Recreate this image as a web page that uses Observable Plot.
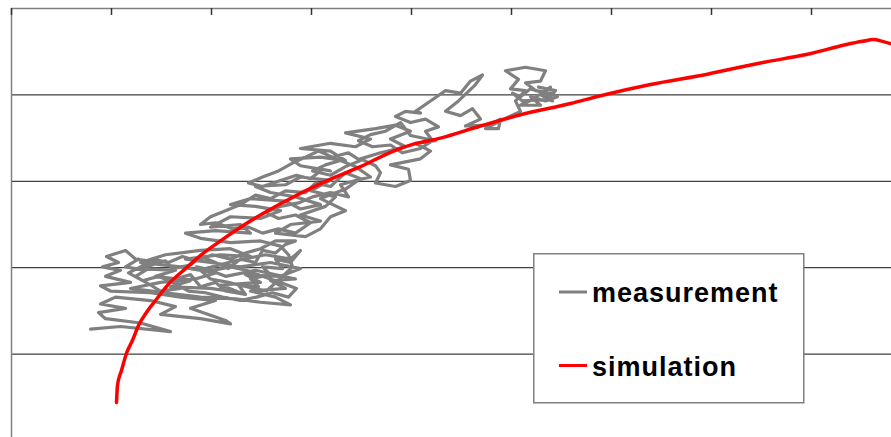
<!DOCTYPE html>
<html><head><meta charset="utf-8">
<script src="https://cdn.jsdelivr.net/npm/d3@7"></script>
<script src="https://cdn.jsdelivr.net/npm/@observablehq/plot@0.6"></script>
<style>
body{margin:0;background:#fff}
#wrap{position:relative;width:891px;height:437px;overflow:hidden}
#legend{position:absolute;left:0;top:0;pointer-events:none}
#legend text{font-family:"Liberation Sans",Arial,sans-serif;font-weight:bold;font-size:27px;letter-spacing:1px;fill:#000}
</style>
</head><body>
<div id="wrap"></div>
<script>
const xTicks = [0, 100, 200, 300, 400, 500, 600, 700, 800];
const yGrid = [100, 200, 300, 400];
const seriesNames = ["measurement", "simulation"];
const seriesColors = ["#808080", "#ff0000"];

const simX = [105,106,110,115,121,127,136,144,157,174,191,209,236,269,316,349,382,402,429,469,509,559,589,639,696,749,796,834,851,862,871,880];
const simY = [44,64,81,101,116,133,150,162,181,199,216,231,252,274,301,317,335,343,350,364,377,390,399,412,424,437,447,458,462,464,462,459];

const measX = [
 79,109,159,129,94,87,114,89,104,139,164,149,189,219,214,179,204,169,139,
 99,89,119,94,109,91,107,95,114,124,149,129,164,144,179,159,199,229,209,249,234,269,289,259,229,199,174,209,239,219,189,154,129,169,204,184,149,119,154,189,224,249,279,264,239,274,259,284,244,214,194,224,254,279,289,
 279,264,271,251,259,239,247,227,234,214,204,189,179,164,169,149,139,124,134,114,127,139,154,161,179,189,204,217,229,244,251,264,274,284,264,
 249,234,219,201,185,171,157,141,129,117,131,147,161,177,194,211,229,245,261,277,285,269,251,235,219,201,185,199,217,235,255,271,281,277,
 269,249,219,189,174,204,239,229,199,219,249,269,244,219,239,274,289,309,284,259,244,274,289,319,299,324,314,289,309,279,264,294,309,319,334,309,334,349,
 334,319,304,294,274,259,244,229,214,199,189,204,221,237,251,267,284,299,284,267,254,269,287,301,319,337,329,344,359,344,329,314,301,319,
 334,349,337,321,307,294,281,267,251,237,251,269,285,299,311,
 319,289,279,309,334,319,289,319,344,359,334,364,384,399,379,394,369,349,364,369,364,384,399,397,379,409,419,404,424,399,389,
 374,359,347,361,379,391,409,421,414,427,414,399,384,394,409,
 404,419,434,449,459,471,464,447,434,449,461,469,454,477,489,487,474,489,509,504,514,499,507,494,514,534,529,514,524,539,546,534,519,529,509,521,539,529,
 541,534,519,509,501,511,537,544,527
];
const measY = [
 129,132,126,136,141,148,153,158,166,162,155,146,141,135,139,153,162,166,171,
 173,179,183,190,197,201,206,213,220,210,206,199,197,190,185,178,176,171,180,183,192,190,199,206,201,206,210,215,213,222,220,215,206,201,194,187,183,176,171,166,164,160,157,166,173,176,185,187,197,190,199,208,215,210,220,
 206,210,199,201,192,187,178,180,169,173,183,178,192,187,176,173,180,190,197,201,210,203,208,199,203,213,206,199,210,206,220,217,227,231,231,
 222,217,210,215,208,213,206,210,201,194,185,190,183,173,171,166,162,166,171,166,176,183,190,197,201,197,201,187,183,178,173,190,201,215,
 225,231,229,234,240,243,240,250,247,259,257,266,271,273,280,277,268,273,282,287,294,296,305,301,289,282,271,261,254,250,240,236,245,259,266,280,291,303,
 310,294,298,287,289,280,284,273,266,259,250,252,245,247,240,245,240,252,261,257,264,271,275,282,287,282,296,301,305,317,324,319,312,307,
 317,324,333,328,335,328,321,312,305,298,294,301,307,303,314,
 312,318,326,328,324,335,338,344,340,349,356,361,365,358,349,340,333,326,318,310,298,294,301,314,319,326,335,344,347,353,368,
 358,354,347,340,342,333,338,347,358,363,372,368,375,381,379,
 381,393,405,402,416,423,412,393,381,376,384,372,364,365,372,361,361,370,381,393,405,407,418,428,432,428,416,414,405,402,398,393,398,388,388,395,409,400,
 393,402,407,398,402,393,395,405,409
];

const sim = simX.map((x, i) => ({x, y: simY[i]}));
const meas = measX.map((x, i) => ({x, y: measY[i]}));

const chart = Plot.plot({
  width: 891, height: 437,
  marginLeft: 11, marginRight: 0, marginTop: 8, marginBottom: 0,
  x: {domain: [0, 880], axis: null},
  y: {domain: [3.5, 500], axis: null},
  style: {background: "#fff", overflow: "visible"},
  marks: [
    Plot.ruleY(yGrid, {stroke: "#111", strokeWidth: 1}),
    Plot.ruleY([500], {stroke: "#808080", strokeWidth: 1.5}),
    Plot.ruleX([0], {stroke: "#808080", strokeWidth: 1.5}),
    Plot.ruleX(xTicks, {y1: 500, y2: 492, stroke: "#333", strokeWidth: 1.5}),
    Plot.line(meas, {x: "x", y: "y", stroke: seriesColors[0], strokeWidth: 3.2, strokeLinejoin: "round", strokeLinecap: "round"}),
    Plot.line(sim, {x: "x", y: "y", stroke: seriesColors[1], strokeWidth: 3.5, strokeLinejoin: "round", curve: "monotone-x"})
  ]
});
const wrap = document.getElementById("wrap");
wrap.appendChild(chart);

// legend overlay
const ns = "http://www.w3.org/2000/svg";
const lg = document.createElementNS(ns, "svg");
lg.setAttribute("id", "legend");
lg.setAttribute("width", 891);
lg.setAttribute("height", 437);
const box = document.createElementNS(ns, "rect");
box.setAttribute("x", 533.75); box.setAttribute("y", 253.75);
box.setAttribute("width", 270); box.setAttribute("height", 149);
box.setAttribute("fill", "#fff"); box.setAttribute("stroke", "#808080"); box.setAttribute("stroke-width", 1.5);
lg.appendChild(box);
const rows = [{ly: 292, ty: 302}, {ly: 365.5, ty: 376}];
seriesNames.forEach((name, i) => {
  const ln = document.createElementNS(ns, "line");
  ln.setAttribute("x1", 559); ln.setAttribute("x2", 587);
  ln.setAttribute("y1", rows[i].ly); ln.setAttribute("y2", rows[i].ly);
  ln.setAttribute("stroke", seriesColors[i]); ln.setAttribute("stroke-width", 3);
  lg.appendChild(ln);
  const t = document.createElementNS(ns, "text");
  t.setAttribute("x", 592); t.setAttribute("y", rows[i].ty);
  t.textContent = name;
  lg.appendChild(t);
});
wrap.appendChild(lg);
</script>
</body></html>
